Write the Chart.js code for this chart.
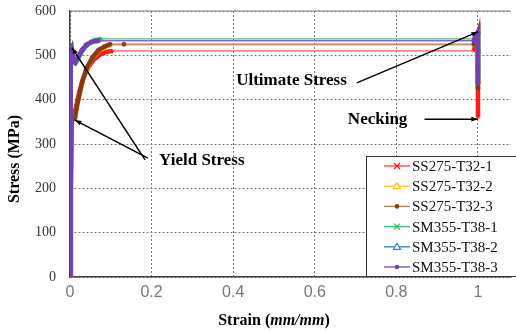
<!DOCTYPE html>
<html>
<head>
<meta charset="utf-8">
<script src="https://cdn.jsdelivr.net/npm/chart.js@4/dist/chart.umd.min.js"></script>
<style>
  html, body { margin: 0; padding: 0; background: #fff; }
  #wrap { width: 516px; height: 332px; }
</style>
</head>
<body>
<div id="wrap"><canvas id="myChart"></canvas></div>
<script>
const seriesNames = ["SS275-T32-1", "SS275-T32-2", "SS275-T32-3", "SM355-T38-1", "SM355-T38-2", "SM355-T38-3"];

// strain (mm/mm) and stress (MPa)
const ss1Strain = [0, 0.002, 0.004, 0.008, 0.014, 0.022, 0.032, 0.044, 0.058, 0.074, 0.09, 0.105, 0.99, 1.0, 1.0, 1.0, 1.0, 1.0, 1.0, 1.0];
const ss1Stress = [0, 200, 350, 356, 380, 415, 447, 472, 490, 502, 508, 510, 510, 546, 515, 480, 445, 415, 385, 360];
const ss2Strain = [0, 0.002, 0.004, 0.012, 0.02, 0.03, 0.04, 0.055, 0.07, 0.085, 0.1, 0.99, 1.0, 1.0, 1.0, 1.0];
const ss2Stress = [0, 200, 352, 358, 398, 438, 468, 494, 510, 519, 523, 523, 548, 510, 470, 432];
const ss3Strain = [0, 0.002, 0.004, 0.012, 0.02, 0.03, 0.04, 0.055, 0.07, 0.085, 0.098, 0.132, 0.99, 1.0, 1.0, 1.0, 1.0];
const ss3Stress = [0, 200, 355, 359, 400, 440, 470, 495, 512, 520, 525, 525, 525, 550, 505, 465, 426];
const sm1Strain = [0, 0.001, 0.002, 0.004, 0.007, 0.015, 0.024, 0.034, 0.046, 0.06, 0.078, 0.99, 1.0, 1.0, 1.0, 1.0];
const sm1Stress = [0, 250, 505, 512, 488, 484, 500, 515, 527, 534, 537, 537, 551, 515, 475, 438];
const sm2Strain = [0, 0.001, 0.002, 0.004, 0.007, 0.013, 0.022, 0.032, 0.043, 0.056, 0.072, 0.99, 1.0, 1.0, 1.0, 1.0];
const sm2Stress = [0, 250, 508, 513, 487, 483, 498, 514, 525, 531, 533, 533, 552, 515, 475, 436];
const sm3Strain = [0, 0.001, 0.002, 0.004, 0.007, 0.012, 0.02, 0.03, 0.04, 0.052, 0.068, 0.99, 1.0, 1.0, 1.0, 1.0];
const sm3Stress = [0, 250, 510, 515, 490, 484, 498, 513, 524, 530, 533, 533, 552, 512, 472, 437];

const strains = [ss1Strain, ss2Strain, ss3Strain, sm1Strain, sm2Strain, sm3Strain];
const stresses = [ss1Stress, ss2Stress, ss3Stress, sm1Stress, sm2Stress, sm3Stress];

const xTicks = [0, 0.2, 0.4, 0.6, 0.8, 1];

const darkColors = ["#ff1a1a", "#ffc000", "#8a3a12", "#2fb35a", "#2f7fd0", "#7442b0"];
const lightColors = ["#ff5a5a", "#ffcc40", "#b98a68", "#4cbf80", "#4a8ad8", "#8a62c4"];
const markers = ["crossRot", "triangle", "circle", "crossRot", "triangle", "circle"];

const steep = c => Math.abs(c.p1.parsed.x - c.p0.parsed.x) < 0.025;

const datasets = seriesNames.map((name, i) => ({
  label: name,
  data: strains[i].map((x, k) => ({ x: x, y: stresses[i][k] })),
  borderColor: lightColors[i],
  backgroundColor: darkColors[i],
  pointStyle: markers[i],
  pointRadius: 2,
  pointBorderWidth: 1,
  pointBorderColor: darkColors[i],
  pointBackgroundColor: markers[i] === "triangle" ? "#fff" : darkColors[i],
  order: 5 - i,
  segment: {
    borderWidth: c => steep(c) ? 4.5 : 1.3,
    borderColor: c => steep(c) ? darkColors[i] : lightColors[i],
  },
}));

function arrow(ctx, x0, y0, x1, y1) {
  ctx.beginPath(); ctx.moveTo(x0, y0); ctx.lineTo(x1, y1); ctx.stroke();
  const a = Math.atan2(y1 - y0, x1 - x0), L = 7;
  ctx.beginPath();
  ctx.moveTo(x1, y1);
  ctx.lineTo(x1 - L * Math.cos(a - 0.35), y1 - L * Math.sin(a - 0.35));
  ctx.lineTo(x1 - L * Math.cos(a + 0.35), y1 - L * Math.sin(a + 0.35));
  ctx.closePath(); ctx.fill();
}

function marker(ctx, style, x, y, col) {
  ctx.save();
  ctx.strokeStyle = col; ctx.fillStyle = col; ctx.lineWidth = 1.2;
  if (style === "crossRot") {
    ctx.beginPath();
    ctx.moveTo(x - 3, y - 3); ctx.lineTo(x + 3, y + 3);
    ctx.moveTo(x + 3, y - 3); ctx.lineTo(x - 3, y + 3);
    ctx.stroke();
  } else if (style === "triangle") {
    ctx.fillStyle = "#fff";
    ctx.beginPath();
    ctx.moveTo(x, y - 3.5); ctx.lineTo(x + 3.5, y + 2.5); ctx.lineTo(x - 3.5, y + 2.5);
    ctx.closePath(); ctx.fill(); ctx.stroke();
  } else {
    ctx.beginPath(); ctx.arc(x, y, 2.3, 0, Math.PI * 2); ctx.fill();
  }
  ctx.restore();
}

// annotation text and arrows, in data units
const notes = [
  { text: "Ultimate Stress", x: 0.543, y: 444, from: [[0.703, 438]], to: [[1.0, 553]] },
  { text: "Necking", x: 0.754, y: 356, from: [[0.869, 356]], to: [[1.0, 356]] },
  { text: "Yield Stress", x: 0.323, y: 262, from: [[0.184, 264], [0.191, 268]], to: [[0.005, 517], [0.012, 354]] },
];

const overlay = {
  id: "overlay",
  afterDraw(chart) {
    const ctx = chart.ctx, xs = chart.scales.x, ys = chart.scales.y, a = chart.chartArea;
    ctx.save();
    // top border
    ctx.strokeStyle = "#888"; ctx.lineWidth = 1.2;
    ctx.beginPath(); ctx.moveTo(a.left, a.top); ctx.lineTo(a.right, a.top); ctx.stroke();

    // annotations
    ctx.fillStyle = "#000"; ctx.strokeStyle = "#000"; ctx.lineWidth = 1.5;
    ctx.font = "bold 17px 'Liberation Serif'";
    ctx.textAlign = "center"; ctx.textBaseline = "middle";
    notes.forEach(n => {
      ctx.fillText(n.text, xs.getPixelForValue(n.x), ys.getPixelForValue(n.y));
      n.from.forEach((f, k) => {
        const t = n.to[k];
        arrow(ctx, xs.getPixelForValue(f[0]), ys.getPixelForValue(f[1]),
              xs.getPixelForValue(t[0]), ys.getPixelForValue(t[1]));
      });
    });

    // legend box
    const bx = 366, by = 156, bw = 160, bh = 120;
    ctx.fillStyle = "#fff"; ctx.fillRect(bx, by, bw, bh);
    ctx.strokeStyle = "#333"; ctx.lineWidth = 1;
    ctx.strokeRect(bx + 0.5, by + 0.5, bw, bh);
    ctx.font = "15px 'Liberation Serif'";
    ctx.textAlign = "left";
    seriesNames.forEach((name, i) => {
      const y = by + 10 + i * 20.2;
      ctx.strokeStyle = lightColors[i]; ctx.lineWidth = 1.5;
      ctx.beginPath(); ctx.moveTo(384, y); ctx.lineTo(410, y); ctx.stroke();
      marker(ctx, markers[i], 397, y, darkColors[i]);
      ctx.fillStyle = "#111";
      ctx.fillText(name, 412, y + 1);
    });

    // axis titles
    ctx.fillStyle = "#000";
    ctx.save();
    ctx.translate(15, 159); ctx.rotate(-Math.PI / 2);
    ctx.font = "bold 16px 'Liberation Serif'"; ctx.textAlign = "center";
    ctx.fillText("Stress (MPa)", 0, 0);
    ctx.restore();
    const parts = [["Strain (", "bold"], ["mm/mm", "bold italic"], [")", "bold"]];
    let w = 0;
    parts.forEach(p => { ctx.font = p[1] + " 16px 'Liberation Serif'"; w += ctx.measureText(p[0]).width; });
    let x = 274 - w / 2;
    ctx.textAlign = "left";
    parts.forEach(p => { ctx.font = p[1] + " 16px 'Liberation Serif'"; ctx.fillText(p[0], x, 321); x += ctx.measureText(p[0]).width; });
    ctx.restore();
  },
};

const config = {
  type: "line",
  data: { datasets: datasets },
  options: {
    responsive: true,
    maintainAspectRatio: false,
    animation: false,
    layout: { padding: { top: 11, right: 0, left: 0, bottom: 0 } },
    plugins: { legend: { display: false }, tooltip: { enabled: false } },
    scales: {
      x: {
        type: "linear", min: 0, max: 1.081,
        afterFit: s => { s.height = 55; },
        afterBuildTicks: s => { s.ticks = xTicks.map(v => ({ value: v })); },
        ticks: { color: "#777", font: { family: "'Liberation Sans'", size: 16 }, padding: 6,
                 callback: v => String(+v.toFixed(1)) },
        grid: { color: "#777", lineWidth: 1, drawTicks: false, borderDash: [2, 2] },
        border: { color: "#444", width: 1.5, dash: [2, 2] },
      },
      y: {
        min: 0, max: 600,
        afterFit: s => { s.width = 70; s.paddingTop = 0; s.paddingBottom = 0; },
        ticks: { stepSize: 100, color: "#333", font: { family: "'Liberation Serif'", size: 14 }, padding: 14 },
        grid: { color: "#777", lineWidth: 1, drawTicks: false, borderDash: [2, 2] },
        border: { color: "#444", width: 1.5, dash: [2, 2] },
      },
    },
  },
  plugins: [overlay],
};

const myChart = new Chart(document.getElementById("myChart"), config);
</script>
</body>
</html>
